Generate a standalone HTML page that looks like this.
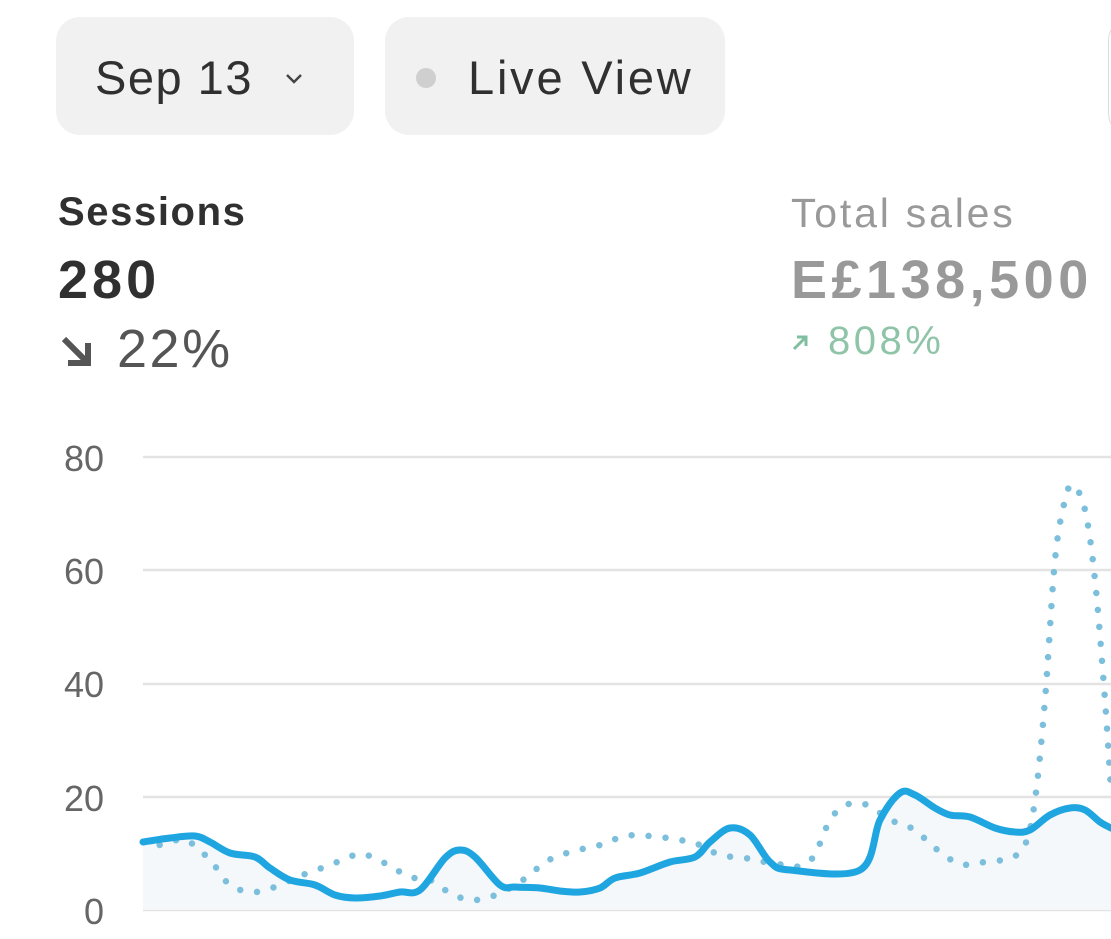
<!DOCTYPE html>
<html><head><meta charset="utf-8"><style>
body{margin:0;width:1111px;height:939px;background:#fff;overflow:hidden;position:relative;font-family:"Liberation Sans",sans-serif;}
.btn{position:absolute;top:17px;height:118px;background:#f1f1f2;border-radius:24px;}
.t{position:absolute;white-space:nowrap;}
</style></head><body>
<div class="btn" style="left:56px;width:298px"></div>
<div class="btn" style="left:385px;width:340px"></div>
<div class="btn" style="left:1108px;width:60px;border:1px solid #ddd;background:#fff"></div>
<div class="t" style="left:95px;top:50px;font-size:47px;letter-spacing:1.5px;color:#303030">Sep 13</div>
<svg style="position:absolute;left:284px;top:72px" width="20" height="14"><path d="M3 3 L10 10 L17 3" fill="none" stroke="#444" stroke-width="2.4"/></svg>
<div style="position:absolute;left:416px;top:68px;width:20px;height:20px;border-radius:50%;background:#cfcfcf"></div>
<div class="t" style="left:468px;top:50px;font-size:47px;letter-spacing:2.8px;color:#303030">Live View</div>
<div class="t" style="left:58px;top:190px;font-size:40px;letter-spacing:1.6px;font-weight:bold;color:#303030">Sessions</div>
<div class="t" style="left:58px;top:249px;font-size:54px;letter-spacing:4px;font-weight:bold;color:#303030">280</div>
<svg style="position:absolute;left:58px;top:333px" width="40" height="36"><path d="M6 6 L30 30 M30 10 V30 H10" fill="none" stroke="#555" stroke-width="6"/></svg>
<div class="t" style="left:117px;top:318px;font-size:54px;letter-spacing:2.5px;color:#555">22%</div>
<div class="t" style="left:791px;top:190px;font-size:41px;letter-spacing:2.8px;color:#999">Total sales</div>
<div class="t" style="left:791px;top:249px;font-size:54px;letter-spacing:4.5px;font-weight:bold;color:#999">E£138,500</div>
<svg style="position:absolute;left:791px;top:333px" width="20" height="20"><path d="M3 16 L15 4 M6 4 H15 V13" fill="none" stroke="#7fbf9f" stroke-width="3"/></svg>
<div class="t" style="left:828px;top:319px;font-size:40px;letter-spacing:3.5px;color:#8fc4a8">808%</div>
<svg style="position:absolute;left:0;top:0" width="1111" height="939">
<g font-size="36" fill="#666" font-family="Liberation Sans, sans-serif" text-anchor="end">
<text x="104" y="471">80</text><text x="104" y="584">60</text><text x="104" y="697">40</text><text x="104" y="811">20</text><text x="104" y="924">0</text></g>
<g stroke="#e3e3e3" stroke-width="2.5"><line x1="143" x2="1111" y1="457" y2="457"/><line x1="143" x2="1111" y1="570" y2="570"/><line x1="143" x2="1111" y1="684" y2="684"/><line x1="143" x2="1111" y1="797" y2="797"/><line x1="143" x2="1111" y1="910" y2="910"/></g>
<path id="area" fill="#f5f8fa"/>
<path id="dot" fill="none" stroke="#7cbfdc" stroke-width="6.5" stroke-dasharray="0 17" stroke-linecap="round"/>
<path id="sol" fill="none" stroke="#1fa6e0" stroke-width="7" stroke-linejoin="round" stroke-linecap="round"/>
</svg>
<script>
function cr(p){let d="M"+p[0][0]+" "+p[0][1];for(let i=0;i<p.length-1;i++){const a=p[Math.max(i-1,0)],b=p[i],c=p[i+1],e=p[Math.min(i+2,p.length-1)];d+=" C"+(b[0]+(c[0]-a[0])/6)+" "+(b[1]+(c[1]-a[1])/6)+" "+(c[0]-(e[0]-b[0])/6)+" "+(c[1]-(e[1]-b[1])/6)+" "+c[0]+" "+c[1];}return d;}
const s=[[143,842],[170,838],[195,836],[210,842],[230,853],[255,857],[270,868],[290,880],[315,885],[335,895],[355,898],[380,896],[400,892],[420,890],[445,858],[460,850],[475,857],[500,885],[515,887],[540,888],[560,891],[580,892],[600,888],[615,878],[640,873],[670,862],[695,857],[710,842],[730,828],[750,835],[770,862],[790,870],[860,870],[880,820],[900,793],[915,795],[935,808],[950,815],[970,817],[995,828],[1015,832],[1030,830],[1050,815],[1070,808],[1085,810],[1100,822],[1111,828]];
const d=[[143,842],[160,845],[185,840],[210,860],[230,885],[255,892],[280,885],[300,876],[330,865],[355,855],[370,856],[390,866],[410,877],[430,880],[450,893],[470,900],[490,897],[510,888],[530,875],[545,862],[570,852],[600,845],[625,836],[650,836],[680,840],[700,845],[720,855],[745,858],[765,862],[785,865],[800,866],[815,855],[825,830],[840,808],[860,803],[875,810],[895,822],[915,830],[935,848],[960,864],[985,862],[1010,858],[1025,845],[1035,800],[1045,700],[1055,560],[1065,500],[1073,485],[1085,510],[1095,580],[1105,700],[1111,790]];
const ps=cr(s);document.getElementById("sol").setAttribute("d",ps);
document.getElementById("area").setAttribute("d",ps+" L1111 910 L143 910 Z");
document.getElementById("dot").setAttribute("d",cr(d));
</script>
</body></html>
